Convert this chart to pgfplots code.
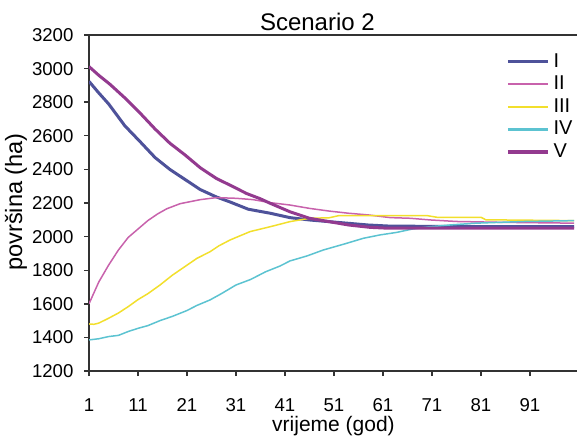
\documentclass[border=0pt]{standalone}
\usepackage{fontspec}
\setmainfont{Liberation Sans}
\usepackage{pgfplots}
\pgfplotsset{compat=1.18}
\definecolor{cI}{HTML}{4E529A}
\definecolor{cII}{HTML}{C862AC}
\definecolor{cIII}{HTML}{F2DF2C}
\definecolor{cIV}{HTML}{5CC3D1}
\definecolor{cV}{HTML}{933A8F}
\definecolor{axc}{HTML}{333333}
\begin{document}
\fontsize{9.3pt}{11pt}\selectfont
\begin{tikzpicture}
\path[use as bounding box] (0,0) rectangle (288.5pt,219.5pt);
\begin{axis}[
  at={(44.5pt,34pt)}, anchor=south west,
  scale only axis, width=244pt, height=168pt,
  xmin=1, xmax=100.6, ymin=1200, ymax=3200,
  xtick={1,11,21,31,41,51,61,71,81,91},
  ytick={1200,1400,1600,1800,2000,2200,2400,2600,2800,3000,3200},
  axis x line*=bottom, axis y line*=left,
  axis line style={axc, line width=0.8pt},
  tick style={axc, line width=0.7pt},
  tick align=outside, major tick length=2.5pt,
  /pgf/number format/assume math mode=true,
  /pgf/number format/1000 sep={},
  xticklabel style={yshift=-8pt},
  yticklabel style={xshift=-2pt},
  title={Scenario 2},
  every axis title/.style={at={(axis description cs:0.468,1)}, anchor=base, yshift=2pt,
    font=\fontsize{12pt}{14pt}\selectfont},
  xlabel={vrijeme (god)},
  ylabel={površina (ha)},
  every axis x label/.style={at={(axis description cs:0.501,-0.1815)}, anchor=base,
    font=\fontsize{10.5pt}{12pt}\selectfont},
  every axis y label/.style={at={(axis description cs:-0.137,0.503)}, rotate=90, anchor=base,
    font=\fontsize{11.8pt}{14pt}\selectfont},
  legend style={at={(0.842,0.97)}, anchor=north west, draw=none, fill=none,
    row sep=-1pt, font=\fontsize{10pt}{11pt}\selectfont},
  legend cell align=left,
  legend image code/.code={\draw[#1] (0pt,0pt) -- (20pt,0pt);},
]
\addlegendimage{cI, line width=1.6pt}
\addlegendentry{I}
\addlegendimage{cII, line width=1.1pt}
\addlegendentry{II}
\addlegendimage{cIII, line width=1.1pt}
\addlegendentry{III}
\addlegendimage{cIV, line width=1.1pt}
\addlegendentry{IV}
\addlegendimage{cV, line width=1.6pt}
\addlegendentry{V}

\addplot[cI, line width=1.5pt, forget plot] coordinates {
(1,2924) (3,2855) (5,2790) (8.3,2660) (11.4,2566) (14.5,2470) (17.5,2400)
(20.6,2340) (23.7,2280) (27,2236) (29.8,2206) (33.5,2163) (38,2139) (42,2113)
(46,2099) (50,2089) (54,2079) (58,2069) (62,2063) (70,2061) (80,2060)
(90,2060) (100,2060)};
\addplot[cII, line width=0.75pt, forget plot] coordinates {
(1,1600) (3,1730) (5,1830) (7,1920) (9,1995) (11,2045) (13,2095) (15,2135)
(16.9,2166) (19.6,2196) (23.7,2220) (27,2232) (31,2228) (34.5,2220)
(38,2202) (42,2188) (46,2168) (50,2152) (54,2139) (58,2129) (62.5,2113)
(66.6,2109) (70.7,2099) (76,2090) (85,2085) (100,2080)};
\addplot[cIII, line width=0.75pt, forget plot] coordinates {
(1,1480) (2,1478) (3,1485) (5,1514) (7,1545) (9,1583) (11,1625) (13,1660)
(15.5,1712) (18,1770) (21,1830) (23,1870) (25.7,1910) (27.5,1945)
(29.8,1980) (33.9,2030) (38,2059) (42,2089) (46,2109) (50,2112) (52,2125)
(70,2125) (72,2115) (81,2115) (82,2100) (100,2095)};
\addplot[cIV, line width=0.75pt, forget plot] coordinates {
(1,1385) (3,1392) (5,1405) (7,1412) (9,1435) (11,1454) (13,1470) (15.5,1500)
(18,1525) (21,1560) (23,1590) (25.7,1623) (28,1660) (31,1712) (34,1745)
(37,1790) (40,1825) (42,1855) (45.5,1885) (48.8,1920) (53,1955) (57,1990)
(60.4,2010) (63.8,2025) (67,2045) (70.6,2059) (75,2070) (80,2080) (85,2085)
(90,2090) (100,2095)};
\addplot[cV, line width=1.5pt, forget plot] coordinates {
(1,3012) (3,2960) (5.3,2906) (8.3,2826) (11.4,2736) (14.5,2640) (17.5,2556)
(20.6,2486) (23.7,2410) (27,2346) (29.8,2306) (33.2,2256) (35.9,2226)
(38,2198) (42,2148) (46,2109) (50,2089) (54,2069) (58.4,2055) (62,2050)
(100,2050)};
\end{axis}
\draw[axc, line width=0.8pt] (current axis.north west) -- (current axis.north east);
\end{tikzpicture}
\end{document}
